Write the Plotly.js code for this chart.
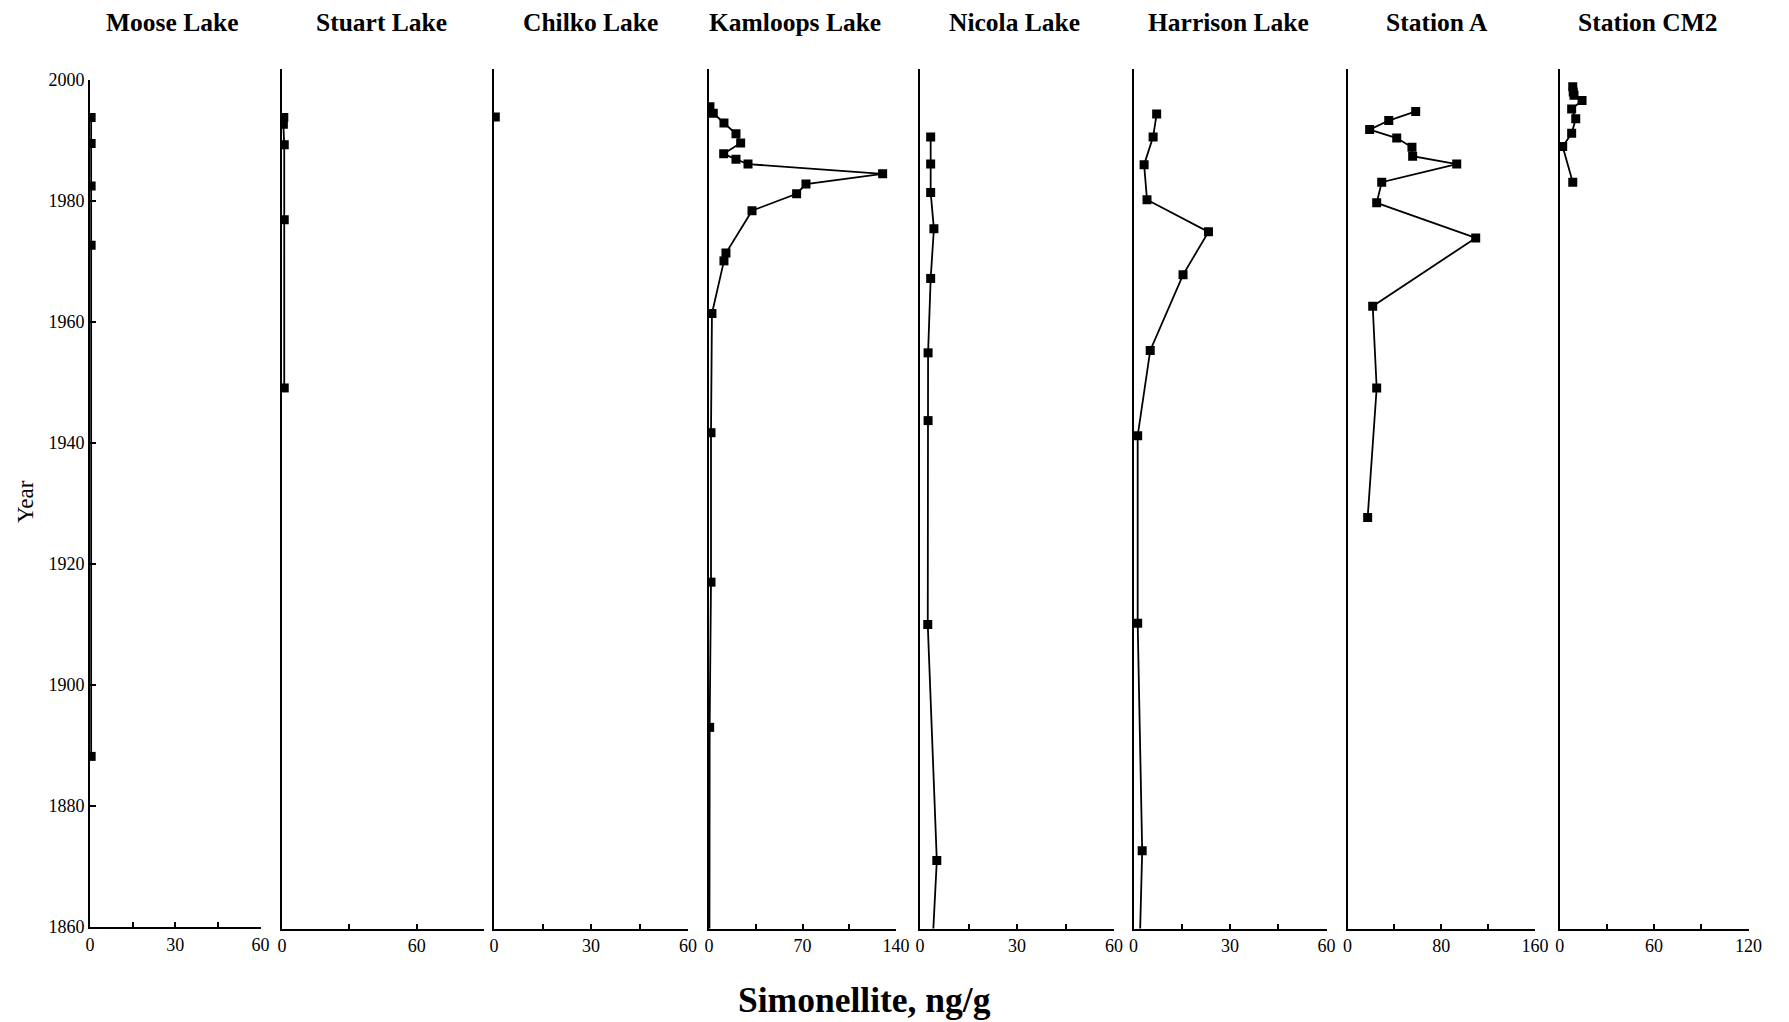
<!DOCTYPE html>
<html>
<head>
<meta charset="utf-8">
<script src="https://cdn.plot.ly/plotly-3.0.1.min.js"></script>
<style>html,body{margin:0;padding:0;background:#fff;}#chart{width:1789px;height:1022px;}</style>
</head>
<body>
<div id="chart"></div>
<script>
// ---- Data ----
const panelNames = ["Moose Lake", "Stuart Lake", "Chilko Lake", "Kamloops Lake", "Nicola Lake", "Harrison Lake", "Station A", "Station CM2"];

const mooseYear = [1993.8, 1989.5, 1982.5, 1972.7, 1888.2];
const mooseVal  = [0.4, 0.4, 0.4, 0.4, 0.4];

const stuartYear = [1993.8, 1992.7, 1989.3, 1976.9, 1949.1];
const stuartVal  = [0.8, 0.6, 1.0, 1.0, 1.0];

const chilkoYear = [1993.9];
const chilkoVal  = [0.4];

const kamloopsYear = [1995.6, 1994.5, 1992.9, 1991.1, 1989.6, 1987.8, 1986.9, 1986.1, 1984.5, 1982.8, 1981.2, 1978.4, 1971.4, 1970.1, 1961.4, 1941.7, 1917.0, 1893.0, 1850.0];
const kamloopsVal  = [0.7, 3.2, 11.2, 20.2, 23.7, 11.0, 20.2, 29.2, 130.0, 72.6, 65.6, 32.2, 12.7, 11.2, 2.2, 1.5, 1.5, 0.5, 0.3];

const nicolaYear = [1990.6, 1986.1, 1981.4, 1975.4, 1967.2, 1954.9, 1943.7, 1910.0, 1871.0, 1850.0];
const nicolaVal  = [3.3, 3.3, 3.3, 4.3, 3.3, 2.5, 2.5, 2.4, 5.2, 3.2];

const harrisonYear = [1994.4, 1990.6, 1986.0, 1980.2, 1974.9, 1967.8, 1955.3, 1941.2, 1910.2, 1872.6, 1850.0];
const harrisonVal  = [7.2, 6.1, 3.3, 4.2, 23.3, 15.4, 5.2, 1.3, 1.3, 2.7, 1.6];

const stationAYear = [1994.8, 1993.3, 1991.8, 1990.4, 1988.9, 1987.4, 1986.1, 1983.1, 1979.7, 1973.9, 1962.6, 1949.1, 1927.7];
const stationAVal  = [58.2, 35.2, 18.9, 42.0, 55.0, 55.6, 93.2, 29.2, 24.9, 109.4, 21.5, 24.9, 17.2];

const cm2Year = [1998.9, 1998.0, 1997.5, 1996.6, 1995.2, 1993.6, 1991.2, 1989.0, 1983.1];
const cm2Val  = [8.3, 8.6, 9.1, 14.2, 7.6, 10.2, 7.6, 1.9, 8.3];

const xMax = [60, 90, 60, 140, 60, 60, 160, 120];
const xTickVals = [[0,15,30,45,60],[0,30,60,90],[0,15,30,45,60],[0,35,70,105,140],[0,15,30,45,60],[0,15,30,45,60],[0,40,80,120,160],[0,30,60,90,120]];
const xTickText = [["0","","30","","60"],["0","","60",""],["0","","30","","60"],["0","","70","","140"],["0","","30","","60"],["0","","30","","60"],["0","","80","","160"],["0","","60","","120"]];
const yearTicks = [1860, 1880, 1900, 1920, 1940, 1960, 1980, 2000];

const seriesYears = [mooseYear, stuartYear, chilkoYear, kamloopsYear, nicolaYear, harrisonYear, stationAYear, cm2Year];
const seriesVals  = [mooseVal, stuartVal, chilkoVal, kamloopsVal, nicolaVal, harrisonVal, stationAVal, cm2Val];

// ---- Layout geometry (pixels) ----
const W = 1789, H = 1022;
const panelPx = [[90,260.5],[282,484],[494,688],[709,896],[920,1114],[1133.5,1326.5],[1347.5,1535],[1559.7,1748.5]];
const titleCenterPx = [172, 381, 590, 795, 1014, 1228, 1437, 1648];

const FONT = "Liberation Serif, Times New Roman, serif";
const traces = [];
const layout = {
  width: W, height: H,
  margin: {l:0, r:0, t:0, b:0},
  paper_bgcolor: "#fff", plot_bgcolor: "#fff",
  showlegend: false,
  font: {family: FONT, color: "#000", size: 18},
  annotations: []
};

for (let i = 0; i < 8; i++) {
  const sx = i === 0 ? "" : String(i+1);
  traces.push({
    type: "scatter", mode: "lines+markers",
    x: seriesVals[i], y: seriesYears[i],
    xaxis: "x" + sx, yaxis: "y" + sx,
    line: {color: "#000", width: 1.8},
    marker: {symbol: "square", size: 9, color: "#000"},
    cliponaxis: true, hoverinfo: "x+y"
  });
  const dom = [panelPx[i][0]/W, panelPx[i][1]/W];
  layout["xaxis" + sx] = {
    domain: dom, range: [0, xMax[i]], anchor: "y" + sx,
    showline: true, linecolor: "#000", linewidth: 2,
    showgrid: false, zeroline: false,
    ticks: "inside", ticklen: 5, tickwidth: 2, tickcolor: "#000",
    tickvals: xTickVals[i], ticktext: xTickText[i],
    tickfont: {family: FONT, size: 18, color: "#000"}
  };
  if (i === 0) {
    layout["yaxis"] = {
      domain: [1 - 927/H, 1 - 80/H], range: [1860, 2000], anchor: "x",
      showline: true, linecolor: "#000", linewidth: 2,
      showgrid: false, zeroline: false,
      ticks: "inside", ticklen: 6, tickwidth: 2, tickcolor: "#000",
      tickvals: yearTicks,
      tickfont: {family: FONT, size: 18, color: "#000"}
    };
  } else {
    layout["yaxis" + sx] = {
      domain: [1 - 928.5/H, 1 - 69.3/H], range: [1859.75, 2001.77], anchor: "x" + sx,
      showline: true, linecolor: "#000", linewidth: 2,
      showgrid: false, zeroline: false,
      ticks: "", showticklabels: false
    };
  }
  layout.annotations.push({
    text: "<b>" + panelNames[i] + "</b>",
    xref: "paper", yref: "paper",
    x: titleCenterPx[i] / W, y: 1 - 22/H,
    xanchor: "center", yanchor: "middle", showarrow: false,
    font: {family: FONT, size: 25.5, color: "#000"}
  });
}

layout.annotations.push({
  text: "<b>Simonellite, ng/g</b>", xref: "paper", yref: "paper",
  x: 864/W, y: 1 - 1000/H, xanchor: "center", yanchor: "middle", showarrow: false,
  font: {family: FONT, size: 35.5, color: "#000"}
});
layout.annotations.push({
  text: "Year", xref: "paper", yref: "paper", textangle: -90,
  x: 25/W, y: 1 - 502/H, xanchor: "center", yanchor: "middle", showarrow: false,
  font: {family: FONT, size: 23, color: "#000"}
});

Plotly.newPlot("chart", traces, layout, {staticPlot: true, displayModeBar: false});
</script>
</body>
</html>
